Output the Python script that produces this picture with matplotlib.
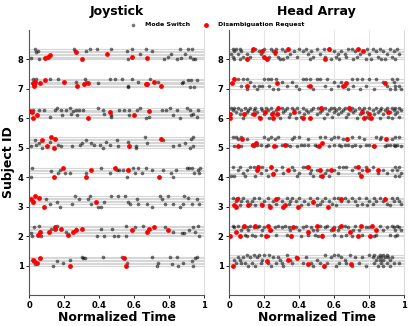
import matplotlib
matplotlib.use("Agg")
import matplotlib.pyplot as plt

subjects = [1, 2, 3, 4, 5, 6, 7, 8]
level_step = 0.05   # each trial sits a little above its subject's row

# ---- Joystick: (normalized time, trial level) ----
joy_mode = {
    8: [(0.013, 1), (0.032, 7), (0.042, 5), (0.052, 6), (0.055, 0), (0.09, 1), (0.256, 7), (0.26, 6),
        (0.324, 6), (0.347, 7), (0.389, 7), (0.471, 7), (0.561, 6), (0.563, 0), (0.59, 7), (0.634, 4),
        (0.666, 7), (0.704, 6), (0.773, 0), (0.792, 2), (0.811, 4), (0.844, 0), (0.865, 7), (0.868, 1),
        (0.891, 4), (0.906, 7), (0.92, 2), (0.93, 7), (0.935, 0), (0.948, 0)],
    7: [(0.023, 7), (0.028, 5), (0.038, 7), (0.122, 7), (0.166, 7), (0.267, 5), (0.319, 7), (0.324, 5),
        (0.395, 4), (0.462, 7), (0.494, 7), (0.532, 7), (0.563, 1), (0.567, 2), (0.59, 7), (0.624, 5),
        (0.691, 7), (0.739, 5), (0.872, 4), (0.882, 5), (0.91, 6), (0.92, 1), (0.924, 6), (0.945, 1),
        (0.958, 6)],
    6: [(0.023, 6), (0.057, 6), (0.086, 6), (0.118, 1), (0.147, 6), (0.16, 7), (0.181, 6), (0.191, 2),
        (0.214, 6), (0.237, 7), (0.242, 3), (0.252, 5), (0.267, 6), (0.275, 2), (0.284, 6), (0.309, 6),
        (0.395, 7), (0.42, 6), (0.43, 3), (0.471, 2), (0.471, 1), (0.513, 6), (0.542, 6), (0.571, 6),
        (0.573, 2), (0.615, 6), (0.634, 7), (0.666, 0), (0.685, 1), (0.761, 6), (0.782, 6), (0.805, 7),
        (0.821, 2), (0.844, 6), (0.863, 0), (0.901, 7), (0.92, 6), (0.924, 2), (0.939, 3), (0.958, 1),
        (0.968, 6)],
    5: [(0.01, 1), (0.032, 5), (0.042, 2), (0.057, 3), (0.076, 0), (0.118, 4), (0.166, 2), (0.185, 1),
        (0.248, 1), (0.29, 2), (0.303, 3), (0.328, 5), (0.355, 3), (0.37, 2), (0.405, 2), (0.42, 0),
        (0.439, 4), (0.462, 2), (0.504, 5), (0.51, 1), (0.567, 4), (0.611, 1), (0.611, 0), (0.662, 7),
        (0.677, 3), (0.767, 5), (0.821, 1), (0.859, 2), (0.891, 3), (0.92, 0), (0.924, 6), (0.935, 7),
        (0.939, 1)],
    4: [(0.01, 0), (0.019, 6), (0.126, 4), (0.166, 3), (0.176, 5), (0.204, 3), (0.233, 3), (0.328, 3),
        (0.414, 6), (0.462, 3), (0.5, 5), (0.515, 5), (0.538, 5), (0.561, 0), (0.567, 5), (0.595, 6),
        (0.605, 3), (0.624, 6), (0.643, 3), (0.666, 6), (0.7, 5), (0.767, 5), (0.811, 3), (0.821, 0),
        (0.838, 5), (0.901, 6), (0.916, 6), (0.93, 6), (0.945, 3), (0.968, 5), (0.973, 3), (0.977, 6)],
    3: [(0.023, 4), (0.099, 5), (0.118, 2), (0.162, 3), (0.176, 0), (0.244, 2), (0.263, 7), (0.286, 5),
        (0.338, 5), (0.347, 7), (0.355, 2), (0.395, 0), (0.414, 0), (0.431, 3), (0.471, 7), (0.51, 7),
        (0.546, 7), (0.567, 3), (0.576, 2), (0.615, 5), (0.62, 2), (0.672, 2), (0.7, 0), (0.748, 7),
        (0.758, 5), (0.777, 2), (0.796, 7), (0.821, 2), (0.863, 0), (0.878, 2), (0.885, 7), (0.91, 6),
        (0.929, 2), (0.958, 5), (0.973, 2)],
    2: [(0.013, 2), (0.019, 0), (0.029, 6), (0.057, 7), (0.071, 0), (0.124, 5), (0.16, 7), (0.214, 3),
        (0.271, 5), (0.391, 0), (0.414, 5), (0.431, 0), (0.477, 5), (0.487, 0), (0.51, 0), (0.553, 7),
        (0.557, 0), (0.605, 6), (0.653, 7), (0.777, 6), (0.824, 3), (0.872, 2), (0.885, 2), (0.916, 4),
        (0.935, 6), (0.948, 3), (0.968, 7), (0.973, 0)],
    1: [(0.032, 1), (0.137, 0), (0.16, 3), (0.195, 2), (0.233, 4), (0.3, 6), (0.309, 5), (0.319, 5),
        (0.424, 6), (0.529, 6), (0.561, 2), (0.704, 6), (0.729, 0), (0.735, 2), (0.805, 6), (0.815, 1),
        (0.844, 6), (0.849, 0), (0.878, 2), (0.929, 3), (0.935, 0), (0.948, 5), (0.958, 6)],
}
joy_disamb = {
    8: [(0.094, 1), (0.109, 2), (0.118, 3), (0.271, 5), (0.30, 0), (0.448, 4), (0.59, 2), (0.674, 1)],
    7: [(0.023, 4), (0.027, 3), (0.031, 2), (0.032, 5), (0.065, 4), (0.09, 6), (0.2, 5), (0.277, 2),
        (0.315, 3), (0.338, 4), (0.666, 3), (0.672, 3), (0.714, 5), (0.752, 2)],
    6: [(0.008, 5), (0.017, 4), (0.023, 0), (0.048, 2), (0.338, 0), (0.462, 4), (0.6, 2), (0.687, 5)],
    5: [(0.076, 5), (0.105, 1), (0.124, 7), (0.147, 6), (0.143, 0), (0.573, 1), (0.754, 6)],
    4: [(0.143, 0), (0.195, 6), (0.324, 0), (0.357, 5), (0.49, 6), (0.567, 5), (0.744, 0)],
    3: [(0.013, 5), (0.023, 3), (0.032, 7), (0.057, 6), (0.086, 0), (0.382, 3)],
    2: [(0.052, 1), (0.061, 3), (0.115, 3), (0.147, 5), (0.147, 6), (0.181, 5), (0.223, 1), (0.252, 3),
        (0.271, 4), (0.303, 5), (0.586, 4), (0.677, 3), (0.685, 5), (0.714, 6), (0.792, 4)],
    1: [(0.023, 4), (0.027, 3), (0.048, 2), (0.061, 5), (0.233, 0), (0.542, 5), (0.553, 0)],
}

# ---- Head Array: mode switches listed per trial level ----
head_mode = {
    8: {7: [0.02, 0.04, 0.06, 0.15, 0.2, 0.24, 0.27, 0.3, 0.4, 0.44, 0.5, 0.54, 0.57, 0.68, 0.7, 0.79, 0.82, 0.86, 0.92, 0.96],
        6: [0.03, 0.07, 0.13, 0.17, 0.25, 0.32, 0.37, 0.42, 0.47, 0.6, 0.64, 0.72, 0.84, 0.88, 0.94],
        4: [0.01, 0.05, 0.1, 0.18, 0.26, 0.35, 0.45, 0.52, 0.62, 0.66, 0.75, 0.8, 0.9, 0.97],
        2: [0.02, 0.08, 0.12, 0.23, 0.28, 0.33, 0.39, 0.48, 0.55, 0.61, 0.67, 0.73, 0.85, 0.93],
        0: [0.03, 0.06, 0.21, 0.29, 0.31, 0.46, 0.58, 0.63, 0.71, 0.78, 0.81, 0.87, 0.89, 0.95]},
    7: {7: [0.05, 0.08, 0.1, 0.2, 0.22, 0.24, 0.27, 0.42, 0.44, 0.46, 0.5, 0.52, 0.56, 0.7, 0.73, 0.76, 0.8, 0.84, 0.93, 0.96],
        5: [0.12, 0.3, 0.36, 0.6, 0.64, 0.88, 0.94],
        2: [0.07, 0.14, 0.17, 0.19, 0.23, 0.33, 0.38, 0.45, 0.55, 0.62, 0.66, 0.71, 0.78, 0.9, 0.95, 0.97],
        0: [0.1, 0.16, 0.25, 0.28, 0.4, 0.48, 0.58, 0.68, 0.75, 0.83, 0.92, 0.95, 0.98]},
    6: {7: [0.01, 0.03, 0.05, 0.09, 0.12, 0.15, 0.18, 0.21, 0.24, 0.3, 0.33, 0.36, 0.39, 0.42, 0.48, 0.51, 0.55, 0.58, 0.6, 0.63,
            0.66, 0.7, 0.74, 0.77, 0.8, 0.84, 0.87, 0.9, 0.93, 0.95, 0.97],
        6: [0.02, 0.07, 0.11, 0.14, 0.19, 0.22, 0.27, 0.32, 0.37, 0.44, 0.47, 0.53, 0.57, 0.61, 0.65, 0.69, 0.72, 0.76, 0.82, 0.86,
            0.89, 0.94, 0.98],
        4: [0.04, 0.1, 0.16, 0.25, 0.31, 0.4, 0.45, 0.52, 0.6, 0.64, 0.71, 0.79, 0.85, 0.92, 0.96],
        3: [0.06, 0.13, 0.2, 0.28, 0.35, 0.43, 0.5, 0.56, 0.62, 0.68, 0.75, 0.83, 0.88, 0.95],
        1: [0.17, 0.34, 0.41, 0.59, 0.67, 0.78, 0.91, 0.97],
        0: [0.08, 0.23, 0.29, 0.38, 0.54, 0.73, 0.8, 0.86, 0.93]},
    5: {7: [0.02, 0.04, 0.07, 0.2, 0.24, 0.28, 0.37, 0.4, 0.52, 0.55, 0.6, 0.62, 0.7, 0.74, 0.84, 0.87, 0.95, 0.97],
        6: [0.05, 0.1, 0.22, 0.26, 0.36, 0.45, 0.58, 0.65, 0.77, 0.86, 0.93],
        2: [0.13, 0.16, 0.18, 0.22, 0.3, 0.33, 0.41, 0.43, 0.45, 0.49, 0.6, 0.63, 0.66, 0.68, 0.72, 0.78, 0.8, 0.9, 0.92, 0.94, 0.96],
        1: [0.03, 0.07, 0.14, 0.21, 0.27, 0.35, 0.39, 0.5, 0.57, 0.64, 0.7, 0.75, 0.82, 0.89, 0.95, 0.98]},
    4: {7: [0.02, 0.06, 0.12, 0.14, 0.19, 0.3, 0.36, 0.42, 0.44, 0.63, 0.65, 0.67, 0.72, 0.78, 0.82, 0.95, 0.97],
        5: [0.05, 0.1, 0.16, 0.21, 0.27, 0.37, 0.47, 0.5, 0.56, 0.6, 0.7, 0.76, 0.8, 0.88, 0.93, 0.96],
        3: [0.08, 0.18, 0.25, 0.31, 0.4, 0.46, 0.55, 0.62, 0.74, 0.85, 0.9, 0.98],
        1: [0.01, 0.03, 0.09, 0.15, 0.22, 0.39, 0.48, 0.52, 0.57, 0.95, 0.97]},
    3: {6: [0.02, 0.05, 0.08, 0.14, 0.17, 0.22, 0.28, 0.33, 0.36, 0.4, 0.46, 0.5, 0.55, 0.6, 0.62, 0.66, 0.7, 0.74, 0.78, 0.83,
            0.86, 0.93, 0.96],
        4: [0.04, 0.07, 0.1, 0.13, 0.2, 0.25, 0.3, 0.35, 0.38, 0.43, 0.48, 0.53, 0.57, 0.64, 0.68, 0.72, 0.8, 0.84, 0.88, 0.94, 0.97],
        2: [0.12, 0.18, 0.27, 0.34, 0.45, 0.52, 0.59, 0.76, 0.82, 0.9, 0.98],
        1: [0.06, 0.15, 0.23, 0.41, 0.5, 0.61, 0.73, 0.79, 0.92]},
    2: {7: [0.02, 0.05, 0.12, 0.17, 0.28, 0.32, 0.44, 0.52, 0.56, 0.66, 0.72, 0.86, 0.93, 0.96],
        6: [0.03, 0.08, 0.1, 0.14, 0.16, 0.2, 0.26, 0.3, 0.34, 0.38, 0.42, 0.47, 0.55, 0.6, 0.63, 0.68, 0.78, 0.8, 0.9, 0.94, 0.97],
        4: [0.07, 0.11, 0.19, 0.24, 0.35, 0.4, 0.48, 0.5, 0.58, 0.62, 0.71, 0.74, 0.88, 0.95, 0.98],
        1: [0.09, 0.13, 0.18, 0.27, 0.33, 0.45, 0.49, 0.53, 0.6, 0.67, 0.76, 0.84, 0.92, 0.96],
        0: [0.1, 0.15, 0.22, 0.41, 0.51, 0.64, 0.7, 0.83, 0.95]},
    1: {7: [0.1, 0.14, 0.17, 0.2, 0.23, 0.33, 0.55, 0.6, 0.62, 0.69, 0.8, 0.83, 0.86, 0.88, 0.9],
        6: [0.05, 0.08, 0.12, 0.16, 0.25, 0.28, 0.38, 0.44, 0.58, 0.64, 0.72, 0.76, 0.82, 0.85, 0.87, 0.89, 0.91, 0.93],
        4: [0.03, 0.06, 0.19, 0.29, 0.35, 0.5, 0.66, 0.84, 0.86, 0.88, 0.92],
        2: [0.04, 0.07, 0.09, 0.13, 0.18, 0.22, 0.27, 0.3, 0.36, 0.42, 0.47, 0.52, 0.56, 0.63, 0.67, 0.74, 0.83, 0.87, 0.9, 0.94, 0.97],
        0: [0.11, 0.15, 0.24, 0.31, 0.48, 0.54, 0.61, 0.7, 0.78, 0.85, 0.88, 0.92]},
}
head_disamb = {
    8: [(0.139, 7), (0.101, 0), (0.19, 6), (0.202, 2), (0.219, 0), (0.263, 5), (0.335, 7), (0.549, 0), (0.571, 7),
        (0.735, 7), (0.768, 6)],
    7: [(0.015, 4), (0.03, 7), (0.1, 2), (0.272, 4), (0.463, 2), (0.653, 2), (0.669, 4), (0.891, 4)],
    6: [(0.006, 3), (0.006, 0), (0.088, 3), (0.145, 3), (0.177, 0), (0.206, 4), (0.244, 3), (0.253, 0), (0.278, 7),
        (0.272, 3), (0.373, 4), (0.425, 0), (0.463, 0), (0.524, 7), (0.686, 7), (0.758, 4), (0.773, 0), (0.8, 3),
        (0.81, 0), (0.907, 4)],
    5: [(0.076, 6), (0.05, 1), (0.139, 2), (0.152, 3), (0.257, 1), (0.32, 2), (0.514, 1), (0.53, 3), (0.672, 6),
        (0.829, 1), (0.897, 6)],
    4: [(0.168, 7), (0.158, 5), (0.238, 7), (0.253, 2), (0.335, 5), (0.45, 7), (0.52, 5), (0.533, 1), (0.583, 5),
        (0.735, 7), (0.754, 1), (0.79, 5), (0.853, 5)],
    3: [(0.048, 5), (0.03, 1), (0.038, 0), (0.11, 1), (0.19, 1), (0.234, 0), (0.269, 5), (0.307, 0), (0.32, 1),
        (0.396, 0), (0.482, 3), (0.568, 0), (0.638, 5), (0.891, 5)],
    2: [(0.006, 0), (0.04, 3), (0.063, 0), (0.088, 7), (0.149, 7), (0.211, 0), (0.225, 7), (0.234, 4), (0.354, 0),
        (0.368, 6), (0.453, 3), (0.501, 7), (0.53, 0), (0.596, 5), (0.64, 7), (0.691, 3), (0.739, 0), (0.754, 7),
        (0.806, 0), (0.819, 7), (0.838, 4)],
    1: [(0.025, 0), (0.215, 3), (0.335, 4), (0.387, 5), (0.453, 1), (0.545, 0), (0.695, 1)],
}
head_mode_pairs = {s: [(x, lv) for lv, xs in d.items() for x in xs] for s, d in head_mode.items()}

xticks = [0, 0.2, 0.4, 0.6, 0.8, 1]
xticklabels = ['0', '0.2', '0.4', '0.6', '0.8', '1']

fig = plt.figure(figsize=(4.15, 3.26), dpi=100)
ax1 = fig.add_axes([29 / 415, 31 / 326, 175 / 415, 265 / 326])
ax2 = fig.add_axes([229 / 415, 31 / 326, 175 / 415, 265 / 326])


def draw(ax, mode, disamb, title, grid):
    for s in subjects:
        levels = sorted({lv for _, lv in mode[s]} | {lv for _, lv in disamb[s]})
        for lv in levels:
            ax.axhline(s + lv * level_step, color='#d6d6d6', lw=0.8, zorder=0)
        ax.scatter([x for x, _ in mode[s]], [s + lv * level_step for _, lv in mode[s]],
                   s=7, color='black', alpha=0.55, linewidths=0, zorder=2)
        ax.scatter([x for x, _ in disamb[s]], [s + lv * level_step for _, lv in disamb[s]],
                   s=12, color='red', linewidths=0, zorder=3)
    ax.set_xlim(0, 1)
    ax.set_ylim(0, 9)
    ax.set_xticks(xticks)
    ax.set_xticklabels(xticklabels)
    ax.set_yticks(subjects)
    ax.tick_params(length=2, width=0.6, labelsize=6, pad=2)
    for lab in ax.get_xticklabels() + ax.get_yticklabels():
        lab.set_fontweight('bold')
    ax.set_title(title, fontsize=9, fontweight='bold', pad=11)
    ax.set_xlabel('Normalized Time', fontsize=9, fontweight='bold', labelpad=1)
    ax.spines['top'].set_visible(False)
    ax.spines['right'].set_color('#dddddd')
    ax.spines['left'].set_color('#555555')
    ax.spines['bottom'].set_color('#555555')
    if grid:
        ax.grid(axis='x', color='#e6e6e6', lw=0.8, zorder=0)
        ax.set_axisbelow(True)


draw(ax1, joy_mode, joy_disamb, 'Joystick', False)
draw(ax2, head_mode_pairs, head_disamb, 'Head Array', True)
ax1.set_ylabel('Subject ID', fontsize=9, fontweight='bold', labelpad=2)

h1 = ax1.scatter([], [], s=7, color='#777777', linewidths=0, label='Mode Switch')
h2 = ax1.scatter([], [], s=12, color='red', linewidths=0, label='Disambiguation Request')
fig.legend(handles=[h1, h2], loc='center', bbox_to_anchor=(0.52, 0.924), ncol=2, frameon=False,
           prop={'size': 4.5, 'weight': 'bold'}, handletextpad=0.9, columnspacing=1.6, markerscale=1.0,
           borderpad=0.1)

fig.savefig('out.png', dpi=100)
